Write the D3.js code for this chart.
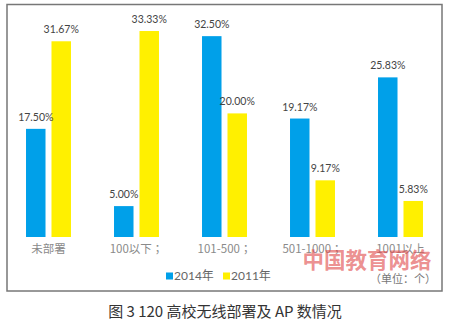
<!DOCTYPE html>
<html><head><meta charset="utf-8">
<script src="https://cdn.jsdelivr.net/npm/d3@7"></script>
<style>
html,body{margin:0;padding:0;background:#fff;}
svg{display:block;}
</style></head>
<body>
<svg id="c" width="450" height="322"></svg>
<script>
const categories = ["未部署", "100以下；", "101-500；", "501-1000；", "1001以上"];
const values2014 = [17.50, 5.00, 32.50, 19.17, 25.83];
const values2011 = [31.67, 33.33, 20.00, 9.17, 5.83];
const seriesNames = ["2014年", "2011年"];
const seriesColors = ["#00a0e9", "#fff000"];
const title = "图 3  120 高校无线部署及 AP 数情况";
const unitNote = "（单位：个）";
const watermark = "中国教育网络";

const svg = d3.select("#c");
const numFont = "Lato, 'Open Sans', sans-serif";
const cjkFont = "'Noto Sans CJK SC', 'Noto Sans', sans-serif";
const cjkFontTC = "'Noto Sans CJK TC', 'Noto Sans CJK SC', sans-serif";

// frame
svg.append("rect").attr("x", 7).attr("y", 4.5).attr("width", 435).attr("height", 286.5)
  .attr("fill", "none").attr("stroke", "#777").attr("stroke-width", 1.5);

const x0 = d3.scaleBand().domain(categories).range([4.5, 444.5])
  .paddingInner(0.489).paddingOuter(0.2445);
const x1 = d3.scaleBand().domain(seriesNames).range([0, x0.bandwidth()]).paddingInner(0.235);
const y = d3.scaleLinear().domain([0, 35]).range([237, 20.7]);

const rows = categories.map((c, i) => ({cat: c, vals: [values2014[i], values2011[i]]}));

const g = svg.selectAll("g.grp").data(rows).enter().append("g")
  .attr("transform", d => `translate(${x0(d.cat)},0)`);

g.selectAll("rect").data(d => d.vals.map((v, j) => ({v, s: seriesNames[j], j})))
  .enter().append("rect")
  .attr("x", d => x1(d.s)).attr("width", x1.bandwidth())
  .attr("y", d => y(d.v)).attr("height", d => y(0) - y(d.v))
  .attr("fill", d => seriesColors[d.j]);

g.selectAll("text.val").data(d => d.vals.map((v, j) => ({v, s: seriesNames[j]})))
  .enter().append("text").attr("class", "val")
  .attr("x", d => x1(d.s) + x1.bandwidth() / 2)
  .attr("y", d => y(d.v) - 8)
  .attr("text-anchor", "middle")
  .attr("font-family", numFont).attr("font-size", 10.5).attr("fill", "#444")
  .text(d => d.v.toFixed(2) + "%");

// category axis labels
const xAxis = d3.axisBottom(x0).tickSize(0).tickPadding(0);
const ax = svg.append("g").attr("transform", "translate(0,245)").call(xAxis);
ax.select(".domain").remove();
ax.selectAll("text").attr("font-family", cjkFontTC).attr("font-size", 11.5)
  .attr("fill", "#8a8a8a").attr("dy", "0.71em");

// watermark
svg.append("text").attr("x", 367).attr("y", 268).attr("text-anchor", "middle")
  .attr("font-family", cjkFont).attr("font-weight", "bold").attr("font-size", 21.5)
  .attr("fill", "#e04848").attr("fill-opacity", 0.62)
  .text(watermark);

// legend
const legX = [166, 223];
const leg = svg.selectAll("g.leg").data(seriesNames).enter().append("g")
  .attr("transform", (d, i) => `translate(${legX[i]},272.5)`);
leg.append("rect").attr("width", 7).attr("height", 7).attr("fill", (d, i) => seriesColors[i]);
leg.append("text").attr("x", 8).attr("y", 3.5).attr("dy", "0.35em")
  .attr("font-family", numFont).attr("font-size", 12).attr("fill", "#666")
  .text(d => d.replace("年", "")).append("tspan").attr("font-family", cjkFont).text("年");

// unit note
svg.append("text").attr("x", 436).attr("y", 279).attr("dy", "0.35em").attr("text-anchor", "end")
  .attr("font-family", cjkFont).attr("font-size", 11).attr("fill", "#777").text(unitNote);

// title
svg.append("text").attr("x", 225).attr("y", 312).attr("dy", "0.35em").attr("text-anchor", "middle")
  .attr("font-family", cjkFont).attr("font-size", 15).attr("fill", "#333").text(title);
</script>
</body></html>
